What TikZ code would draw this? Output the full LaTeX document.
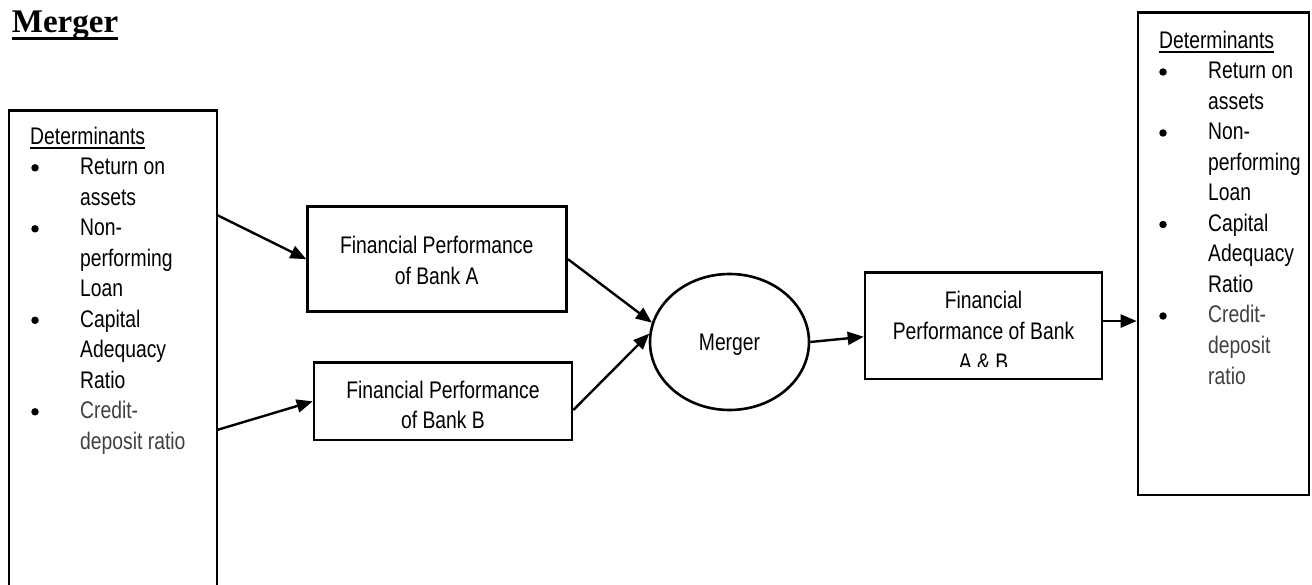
\documentclass[tikz,border=0pt]{standalone}
\usepackage{fontspec}
\setmainfont{Liberation Sans}[FakeStretch=0.805]
\newfontfamily\titlefont{Liberation Serif}
\usetikzlibrary{arrows.meta,shapes.geometric}
\definecolor{graytxt}{HTML}{404040}
\begin{document}
\begin{tikzpicture}[x=1pt,y=-1pt,
  txt/.style={inner sep=0pt, font=\fontsize{24pt}{30.5pt}\selectfont},
  boxshape/.style={draw, line width=2.6pt, rectangle, inner sep=0pt},
  arr/.style={draw, line width=2.4pt, -{Triangle[length=16pt,width=13pt]}},
  bul/.style={circle, fill=black, inner sep=0pt, minimum size=7.5pt},
  ulin/.style={line width=1.6pt}]
\useasboundingbox (0,0) rectangle (1312,585);
\fill[white] (0,0) rectangle (1312,585);

% title
\node[anchor=base west, inner sep=0pt, font=\titlefont\bfseries\fontsize{33pt}{36pt}\selectfont] (title) at (11.7,33) {Merger};
\draw[line width=3pt] ([yshift=-5.5pt]title.base west) -- ([yshift=-5.5pt]title.base east);

% boxes
\node[boxshape, minimum width=208pt, minimum height=509.3pt] (L) at (113,365.35) {};
\node[boxshape, minimum width=259pt, minimum height=105pt] (A) at (437.2,259.2) {};
\node[boxshape, minimum width=258pt, minimum height=77.3pt] (B) at (443,401.35) {};
\node[draw, line width=2.6pt, ellipse, inner sep=0pt, minimum width=159pt, minimum height=136pt, text depth=0pt, font=\fontsize{24pt}{30.5pt}\selectfont] (M) at (729.5,342) {Merger};
\node[boxshape, minimum width=237pt, minimum height=106.3pt] (AB) at (983.5,325.85) {};
\node[boxshape, minimum width=171pt, minimum height=482.3pt] (R) at (1223.5,253.85) {};

% box texts
\node[txt, anchor=base] (Ta1) at (436.7,254) {Financial Performance};
\node[txt, anchor=base] (Ta2) at (436.7,284.3) {of Bank A};
\node[txt, anchor=base] (Tb1) at (443,398.3) {Financial Performance};
\node[txt, anchor=base] (Tb2) at (443,428.3) {of Bank B};
\node[txt, anchor=base] (Tab1) at (983.5,308.3) {Financial};
\node[txt, anchor=base] (Tab2) at (983.5,339.3) {Performance of Bank};
\begin{scope}
\clip (866,274) rectangle (1101,366.7);
\node[txt, anchor=base] (Tab3) at (983.5,370.3) {A \& B};
\end{scope}

% left list
\node[txt, anchor=base west] (dL) at (30,144.3) {Determinants};
\draw[ulin] ([yshift=-3.6pt]dL.base west) -- ([yshift=-3.6pt]dL.base east);
\foreach \t/\b/\col [count=\i] in {Return on/1/black,assets/0/black,Non-/1/black,performing/0/black,Loan/0/black,Capital/1/black,Adequacy/0/black,Ratio/0/black,Credit-/1/graytxt,deposit ratio/0/graytxt}{
  \pgfmathsetmacro\yy{144.3+30.5*\i}
  \node[txt, anchor=base west, text=\col] (Lt\i) at (80,\yy) {\t};
  \ifnum\b=1 \node[bul] (Lb\i) at (35,\yy-7) {};\fi
}

% right list
\node[txt, anchor=base west] (dR) at (1159,48.5) {Determinants};
\draw[ulin] ([yshift=-3.6pt]dR.base west) -- ([yshift=-3.6pt]dR.base east);
\foreach \t/\b/\col [count=\i] in {Return on/1/black,assets/0/black,Non-/1/black,performing/0/black,Loan/0/black,Capital/1/black,Adequacy/0/black,Ratio/0/black,Credit-/1/graytxt,deposit/0/graytxt,ratio/0/graytxt}{
  \pgfmathsetmacro\yy{48.5+30.5*\i}
  \node[txt, anchor=base west, text=\col] (Rt\i) at (1208,\yy) {\t};
  \ifnum\b=1 \node[bul] (Rb\i) at (1163,\yy-7) {};\fi
}

% connectors
\coordinate (l1) at (217,215);
\coordinate (l2) at (217,430);
\draw[arr] (l1) -- (A.west);
\draw[arr] (l2) -- (B.west);
\draw[arr] (A.east) -- (M.166);
\draw[arr] ([yshift=-8.7pt]B.east) -- (M.174);
\draw[arr] (M.east) -- ([yshift=-10.9pt]AB.west);
\draw[arr] ([yshift=4.8pt]AB.east) -- ([yshift=4.8pt]AB.east -| R.west);
\end{tikzpicture}
\end{document}
